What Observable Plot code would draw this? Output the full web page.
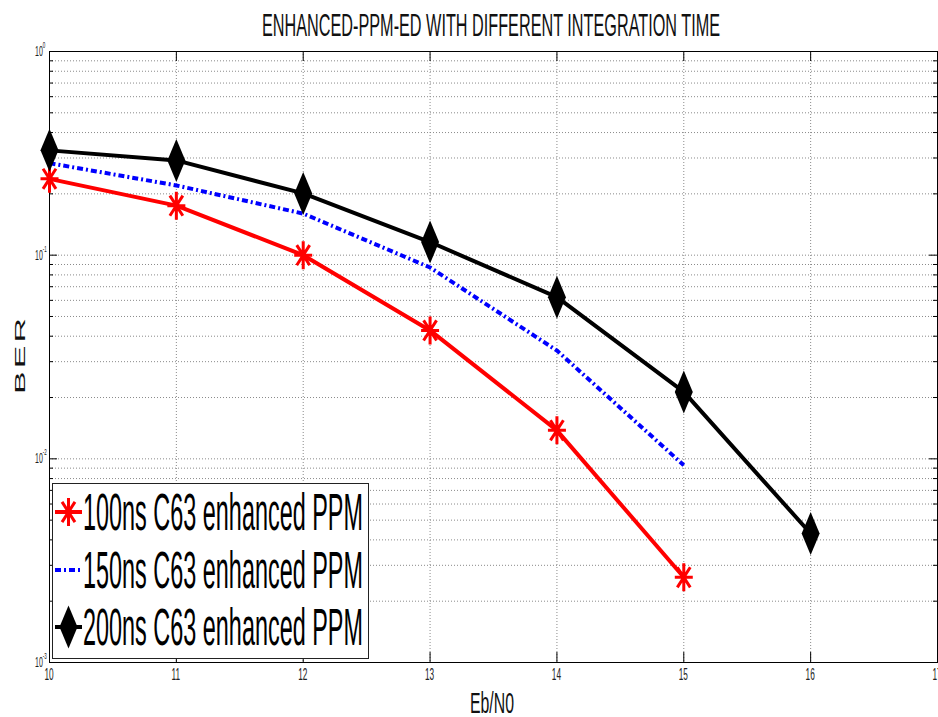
<!DOCTYPE html>
<html><head><meta charset="utf-8">
<script src="https://cdn.jsdelivr.net/npm/d3@7"></script>
<script src="https://cdn.jsdelivr.net/npm/@observablehq/plot@0.6"></script>
<style>html,body{margin:0;padding:0;background:#fff;overflow:hidden}</style>
</head><body><div id="chart"></div>
<script>
// ---- data ----
const ebn0 = [10, 11, 12, 13, 14, 15, 16];
const ber100 = [0.237, 0.175, 0.100, 0.0427, 0.0138, 0.00262];
const ber150 = [0.283, 0.220, 0.160, 0.087, 0.034, 0.0093];
const ber200 = [0.327, 0.292, 0.201, 0.116, 0.0622, 0.0213, 0.0043];
const seriesNames = ["100ns C63 enhanced PPM", "150ns C63 enhanced PPM", "200ns C63 enhanced PPM"];
const xTicks = [10, 11, 12, 13, 14, 15, 16, 17];
const yMajor = [1e-3, 1e-2, 1e-1, 1];
const yExponents = ["-3", "-2", "-1", "0"];
const yMinorMultipliers = [2, 3, 4, 5, 6, 7, 8, 9];
const titleText = "ENHANCED-PPM-ED WITH DIFFERENT INTEGRATION TIME";
const xLabelText = "Eb/N0";
const yLabelText = "BER";

const yMinor = yMajor.slice(0, 3).flatMap(d => yMinorMultipliers.map(k => k * d));
const toRows = vals => vals.map((v, i) => ({x: ebn0[i], y: v}));
const d100 = toRows(ber100), d150 = toRows(ber150), d200 = toRows(ber200);

// ---- layout ----
const W = 938, H = 717;
const mL = 49, mR = 1, mT = 51, mB = 55;
const pw = W - mL - mR, ph = H - mT - mB;

const diamond = {draw(ctx) { ctx.moveTo(0, -21.5); ctx.lineTo(9, 0); ctx.lineTo(0, 21.5); ctx.lineTo(-9, 0); ctx.closePath(); }};
const asterisk = {draw(ctx) {
  const a = 9, b = 14;
  ctx.moveTo(0, -b); ctx.lineTo(0, b);
  ctx.moveTo(-a, 0); ctx.lineTo(a, 0);
  ctx.moveTo(-a*0.72, -b*0.72); ctx.lineTo(a*0.72, b*0.72);
  ctx.moveTo(-a*0.72, b*0.72); ctx.lineTo(a*0.72, -b*0.72);
}};
const DASH = "6,3,2,3";

const gridStyle = {stroke: "#8a8a8a", strokeDasharray: "1,2", strokeWidth: 1};
const plot = Plot.plot({
  width: W, height: H,
  marginLeft: mL, marginRight: mR, marginTop: mT, marginBottom: mB,
  style: {background: "#fff", overflow: "visible"},
  x: {domain: [10, 17], axis: null},
  y: {type: "log", domain: [1e-3, 1], axis: null},
  marks: [
    Plot.ruleY(yMinor.concat(yMajor.slice(1, 3)), gridStyle),
    Plot.ruleX(xTicks.slice(1, -1), gridStyle),
    // inward tick marks
    Plot.tickY(yMajor, {y: d => d, insetRight: pw - 8, stroke: "black"}),
    Plot.tickY(yMajor, {y: d => d, insetLeft: pw - 8, stroke: "black"}),
    Plot.tickY(yMinor, {y: d => d, insetRight: pw - 4, stroke: "black"}),
    Plot.tickY(yMinor, {y: d => d, insetLeft: pw - 4, stroke: "black"}),
    Plot.tickX(xTicks, {x: d => d, insetTop: ph - 10, stroke: "black"}),
    Plot.tickX(xTicks, {x: d => d, insetBottom: ph - 10, stroke: "black"}),
    Plot.frame({stroke: "black", strokeWidth: 1}),
    // series
    Plot.line(d150, {x: "x", y: "y", stroke: "#0000ff", strokeWidth: 4, strokeDasharray: DASH, strokeLinecap: "butt", strokeLinejoin: "miter"}),
    Plot.line(d100, {x: "x", y: "y", stroke: "#ff0000", strokeWidth: 4}),
    Plot.line(d200, {x: "x", y: "y", stroke: "#000000", strokeWidth: 4}),
    Plot.dot(d100, {x: "x", y: "y", symbol: asterisk, fill: "none", stroke: "#ff0000", strokeWidth: 3}),
    Plot.dot(d200, {x: "x", y: "y", symbol: diamond, fill: "#000000", stroke: "none"})
  ]
});
document.getElementById("chart").appendChild(plot);

const sx = plot.scale("x"), sy = plot.scale("y");
const svg = d3.select(plot);
const FONT = "'Liberation Sans', Arial, Helvetica, sans-serif";

// x tick labels
const gx = svg.append("g").attr("font-family", FONT).attr("font-size", 16.5).attr("fill", "#222").attr("text-anchor", "middle");
xTicks.forEach(v => {
  gx.append("text")
    .attr("transform", `translate(${sx.apply(v)},${H - 37}) scale(0.5,1)`).text(String(v));
});
// y tick labels 10^k
const gy = svg.append("g").attr("font-family", FONT).attr("fill", "#222").attr("text-anchor", "start");
yMajor.forEach((v, i) => {
  const t = gy.append("text")
    .attr("transform", `translate(35,${sy.apply(v) + 5}) scale(0.5,1)`)
    .attr("font-size", 14);
  t.append("tspan").text("10");
  t.append("tspan").attr("font-size", 9).attr("dy", -8).text(yExponents[i]);
});
// title
const gt = svg.append("g").attr("font-family", FONT).attr("text-anchor", "start").attr("fill", "#111");
gt.append("text").attr("x", 262).attr("y", 36).attr("font-size", 32)
  .attr("textLength", 458).attr("lengthAdjust", "spacingAndGlyphs").text(titleText);
// axis titles
gt.append("text").attr("x", 470).attr("y", 713).attr("font-size", 30)
  .attr("textLength", 44).attr("lengthAdjust", "spacingAndGlyphs").text(xLabelText);
gt.append("text").attr("transform", "translate(25,394) rotate(-90) scale(1,0.42)")
  .attr("font-size", 34).attr("textLength", 76).attr("lengthAdjust", "spacing").text(yLabelText);

// legend
const lg = svg.append("g").attr("text-anchor", "start");
lg.append("rect").attr("x", 52.5).attr("y", 483.5).attr("width", 316).attr("height", 175)
  .attr("fill", "#fff").attr("stroke", "#222").attr("stroke-width", 1);
const rowsY = [512, 570, 627];
const swX0 = 55, swX1 = 82, swC = 68.5;
// red
lg.append("line").attr("x1", swX0).attr("x2", swX1).attr("y1", rowsY[0]).attr("y2", rowsY[0]).attr("stroke", "#ff0000").attr("stroke-width", 4);
lg.append("path").attr("transform", `translate(${swC},${rowsY[0]})`).attr("d", d3.symbol(asterisk)()).attr("fill", "none").attr("stroke", "#ff0000").attr("stroke-width", 3);
// blue
lg.append("line").attr("x1", swX0).attr("x2", swX1).attr("y1", rowsY[1]).attr("y2", rowsY[1]).attr("stroke", "#0000ff").attr("stroke-width", 4).attr("stroke-dasharray", DASH);
// black
lg.append("line").attr("x1", swX0).attr("x2", swX1).attr("y1", rowsY[2]).attr("y2", rowsY[2]).attr("stroke", "#000").attr("stroke-width", 4);
lg.append("path").attr("transform", `translate(${swC},${rowsY[2]})`).attr("d", d3.symbol(diamond)()).attr("fill", "#000");
seriesNames.forEach((name, i) => {
  lg.append("text").attr("x", 83).attr("y", rowsY[i] + 18).attr("font-family", FONT).attr("font-size", 51)
    .attr("textLength", 280).attr("lengthAdjust", "spacingAndGlyphs").attr("fill", "#000").text(name);
});
</script></body></html>
